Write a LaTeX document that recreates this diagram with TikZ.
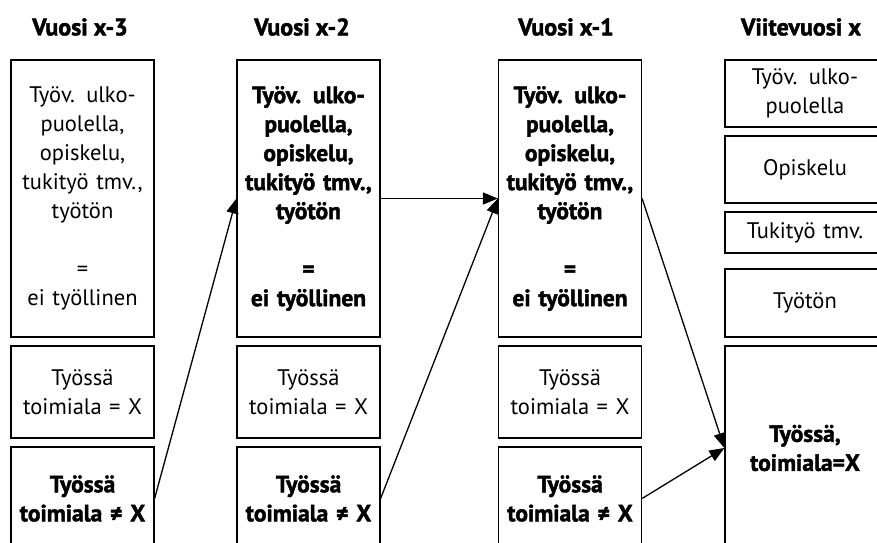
\documentclass[tikz,border=0pt]{standalone}
\usepackage{fontspec}
\setmainfont{PT Sans}[BoldFeatures={FakeBold=1.8}]
\usetikzlibrary{arrows.meta}
\newcommand\bfx{\fontsize{23.5}{29}\selectfont\bfseries}
\begin{document}
\begin{tikzpicture}[x=1pt,y=-1pt,
  box/.style={draw=black,line width=1.2pt,inner sep=0pt,align=center,
    font=\fontsize{22.5}{29}\selectfont},
  colbox/.style={box,text width=143pt,minimum width=143pt},
  lastbox/.style={box,text width=160pt,minimum width=160pt},
  boldbox/.style={font=\bfx},
  head/.style={font=\fontsize{24}{28}\selectfont\bfseries,inner sep=0pt},
  arr/.style={line width=1.3pt,-{Triangle[length=15pt,width=12pt]}}]
\useasboundingbox (0,0) rectangle (877,542);
\clip (0,0) rectangle (877,542);
% headers
\node[head] (h1) at (80,27) {Vuosi x-3};
\node[head] (h2) at (302,27) {Vuosi x-2};
\node[head] (h3) at (566,27) {Vuosi x-1};
\node[head] (h4) at (801,27) {Viitevuosi x};
% column 1
\node[colbox,minimum height=277pt] (a1) at (82.5,198.5)
  {Työv. ulko-\\puolella,\\opiskelu,\\tukityö tmv.,\\työtön\\[29pt]=\\ei työllinen};
\node[colbox,minimum height=92pt] (a2) at (82.5,392) {Työssä\\toimiala = X};
\node[colbox,boldbox,minimum height=103pt] (a3) at (82.5,498.5) {Työssä\\toimiala ≠ X};
% column 2
\node[colbox,boldbox,minimum height=277pt] (b1) at (308.5,198.5)
  {Työv. ulko-\\puolella,\\opiskelu,\\tukityö tmv.,\\työtön\\[29pt]=\\ei työllinen};
\node[colbox,minimum height=92pt] (b2) at (308.5,392) {Työssä\\toimiala = X};
\node[colbox,boldbox,minimum height=103pt] (b3) at (308.5,498.5) {Työssä\\toimiala ≠ X};
% column 3
\node[colbox,boldbox,minimum height=277pt] (c1) at (570,198.5)
  {Työv. ulko-\\puolella,\\opiskelu,\\tukityö tmv.,\\työtön\\[29pt]=\\ei työllinen};
\node[colbox,minimum height=92pt] (c2) at (570,392) {Työssä\\toimiala = X};
\node[colbox,boldbox,minimum height=103pt] (c3) at (570,498.5) {Työssä\\toimiala ≠ X};
% column 4
\node[lastbox,minimum height=67pt] (d1) at (805,93.5) {Työv. ulko-\\puolella};
\node[lastbox,minimum height=67pt] (d2) at (805,169.5) {Opiskelu};
\node[lastbox,minimum height=41pt] (d3) at (805,232.5) {Tukityö tmv.};
\node[lastbox,minimum height=68pt] (d4) at (805,303) {Työtön};
\node[lastbox,boldbox,minimum height=204pt] (d5) at (805,448) {Työssä,\\toimiala=X};
% arrows
\draw[arr] (a3.east) -- (b1.west);
\draw[arr] (b1.east) -- (c1.west);
\draw[arr] (b3.east) -- (c1.west);
\draw[arr] (c1.east) -- (d5.west);
\draw[arr] (c3.east) -- (d5.west);
\end{tikzpicture}
\end{document}
